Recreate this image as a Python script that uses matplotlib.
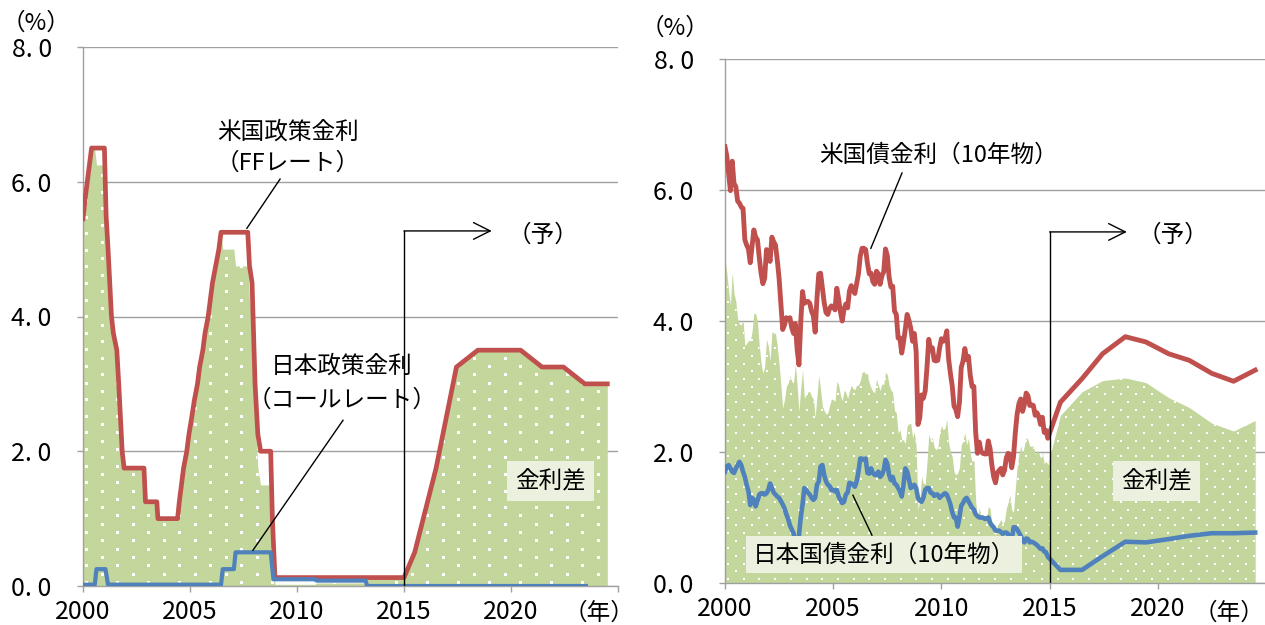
import numpy as np
import matplotlib
matplotlib.use('Agg')
import matplotlib.pyplot as plt
from matplotlib.path import Path

plt.rcParams['font.family'] = ['Liberation Sans Narrow', 'Noto Sans CJK JP', 'DejaVu Sans']

RED = '#c0504d'
BLUE = '#4f81bd'
GREEN = '#c3d69b'
BOXBG = '#ebf1de'
GRID = '#a0a0a0'
W, H = 1265, 625

# --- left: policy rates (year fraction, %) ---
ff_t = [2000.0, 2000.1, 2000.2, 2000.4, 2001.0, 2001.08, 2001.17, 2001.25, 2001.33,
        2001.42, 2001.58, 2001.67, 2001.75, 2001.83, 2001.92, 2002.85, 2002.92, 2003.45,
        2003.5, 2004.42, 2004.5, 2004.6, 2004.7, 2004.85, 2004.95, 2005.08, 2005.2,
        2005.35, 2005.45, 2005.6, 2005.7, 2005.85, 2005.95, 2006.05, 2006.2, 2006.35,
        2006.45, 2007.7, 2007.78, 2007.9, 2008.04, 2008.17, 2008.3, 2008.77,
        2008.85, 2008.97, 2015.0, 2015.5, 2016.5, 2017.45, 2018.45, 2020.45, 2021.45,
        2022.45, 2023.45, 2024.5]
ff_v = [5.45, 5.75, 6.0, 6.5, 6.5, 5.5, 5.0, 4.5, 4.0,
        3.75, 3.5, 3.0, 2.5, 2.0, 1.75, 1.75, 1.25, 1.25,
        1.0, 1.0, 1.25, 1.5, 1.75, 2.0, 2.25, 2.5, 2.75,
        3.0, 3.25, 3.5, 3.75, 4.0, 4.25, 4.5, 4.75, 5.0,
        5.25, 5.25, 4.75, 4.5, 3.0, 2.25, 2.0, 2.0,
        1.0, 0.125, 0.125, 0.5, 1.75, 3.25, 3.5, 3.5, 3.25,
        3.25, 3.0, 3.0]

call_t = [2000.0, 2000.55, 2000.63, 2001.05, 2001.17, 2006.45, 2006.53, 2007.05, 2007.13,
          2008.77, 2008.9, 2010.85, 2010.92, 2013.2, 2013.28, 2023.5]
call_v = [0.02, 0.02, 0.25, 0.25, 0.02, 0.02, 0.25, 0.25, 0.5,
          0.5, 0.1, 0.1, 0.08, 0.08, 0.0, 0.0]

# --- right: 10y government bond yields, monthly 2000/01 - 2014/12 ---
us10 = [
    6.66, 6.52, 6.26, 5.99, 6.44, 6.10, 6.05, 5.83, 5.80, 5.74, 5.72, 5.24,  # 2000
    5.16, 5.10, 4.89, 5.14, 5.39, 5.28, 5.24, 4.97, 4.73, 4.57, 4.65, 5.09,  # 2001
    5.04, 4.91, 5.28, 5.21, 5.16, 4.93, 4.65, 4.26, 3.87, 3.94, 4.05, 4.03,  # 2002
    4.05, 3.90, 3.81, 3.96, 3.57, 3.33, 3.98, 4.45, 4.27, 4.29, 4.30, 4.27,  # 2003
    4.15, 4.08, 3.83, 4.35, 4.72, 4.73, 4.50, 4.28, 4.13, 4.10, 4.19, 4.23,  # 2004
    4.22, 4.17, 4.50, 4.34, 4.14, 4.00, 4.18, 4.26, 4.20, 4.46, 4.54, 4.47,  # 2005
    4.42, 4.57, 4.72, 4.99, 5.11, 5.11, 5.09, 4.88, 4.72, 4.73, 4.60, 4.56,  # 2006
    4.76, 4.72, 4.56, 4.69, 4.75, 5.10, 5.00, 4.67, 4.52, 4.53, 4.15, 4.10,  # 2007
    3.74, 3.74, 3.51, 3.68, 3.88, 4.10, 4.01, 3.89, 3.69, 3.81, 3.53, 2.42,  # 2008
    2.52, 2.87, 2.82, 2.93, 3.29, 3.72, 3.56, 3.59, 3.40, 3.39, 3.40, 3.59,  # 2009
    3.73, 3.69, 3.73, 3.85, 3.42, 3.20, 3.01, 2.70, 2.65, 2.54, 2.76, 3.29,  # 2010
    3.39, 3.58, 3.41, 3.46, 3.17, 3.00, 3.00, 2.30, 1.98, 2.15, 2.01, 1.98,  # 2011
    1.97, 1.97, 2.17, 2.05, 1.80, 1.62, 1.53, 1.68, 1.72, 1.75, 1.65, 1.72,  # 2012
    1.91, 1.98, 1.96, 1.76, 1.93, 2.30, 2.58, 2.74, 2.81, 2.62, 2.72, 2.90,  # 2013
    2.86, 2.71, 2.72, 2.71, 2.56, 2.60, 2.54, 2.42, 2.53, 2.30, 2.33, 2.21,  # 2014
]
jp10 = [
    1.70, 1.78, 1.80, 1.75, 1.70, 1.68, 1.75, 1.80, 1.85, 1.80, 1.70, 1.62,  # 2000
    1.50, 1.40, 1.19, 1.30, 1.27, 1.17, 1.25, 1.35, 1.37, 1.37, 1.35, 1.37,  # 2001
    1.42, 1.52, 1.45, 1.38, 1.35, 1.32, 1.30, 1.25, 1.20, 1.14, 1.05, 0.98,  # 2002
    0.88, 0.82, 0.76, 0.62, 0.55, 0.72, 1.00, 1.20, 1.45, 1.42, 1.38, 1.35,  # 2003
    1.30, 1.27, 1.30, 1.50, 1.55, 1.78, 1.80, 1.65, 1.55, 1.50, 1.48, 1.42,  # 2004
    1.42, 1.40, 1.42, 1.32, 1.27, 1.22, 1.24, 1.35, 1.38, 1.53, 1.52, 1.50,  # 2005
    1.47, 1.55, 1.70, 1.90, 1.90, 1.88, 1.90, 1.68, 1.67, 1.75, 1.68, 1.65,  # 2006
    1.65, 1.70, 1.62, 1.65, 1.72, 1.88, 1.82, 1.65, 1.57, 1.62, 1.52, 1.50,  # 2007
    1.45, 1.40, 1.32, 1.50, 1.75, 1.70, 1.58, 1.45, 1.47, 1.50, 1.45, 1.30,  # 2008
    1.26, 1.24, 1.30, 1.42, 1.45, 1.45, 1.38, 1.37, 1.33, 1.35, 1.35, 1.30,  # 2009
    1.33, 1.35, 1.37, 1.35, 1.28, 1.20, 1.08, 1.00, 1.00, 0.86, 1.00, 1.18,  # 2010
    1.22, 1.28, 1.30, 1.25, 1.20, 1.15, 1.12, 1.05, 1.02, 1.00, 1.00, 1.00,  # 2011
    0.98, 0.98, 1.00, 0.92, 0.88, 0.85, 0.80, 0.80, 0.80, 0.78, 0.75, 0.77,  # 2012
    0.77, 0.75, 0.62, 0.65, 0.85, 0.85, 0.82, 0.77, 0.72, 0.65, 0.62, 0.68,  # 2013
    0.67, 0.62, 0.63, 0.62, 0.60, 0.58, 0.55, 0.52, 0.53, 0.48, 0.47, 0.40,  # 2014
]
# forecast part (予)
fc_t = [2015.5, 2016.5, 2017.45, 2018.5, 2019.45, 2020.5, 2021.45, 2022.5, 2023.5, 2024.5]
us10_fc = [2.76, 3.12, 3.50, 3.76, 3.68, 3.50, 3.40, 3.20, 3.08, 3.25]
jp10_fc = [0.20, 0.20, 0.41, 0.63, 0.62, 0.67, 0.72, 0.76, 0.76, 0.77]

xticks = [2000, 2005, 2010, 2015, 2020, 2025]
xtick_labels = ['2000', '2005', '2010', '2015', '2020', '']
yticks = [0, 2, 4, 6, 8]
ytick_labels = ['0. 0', '2. 0', '4. 0', '6. 0', '8. 0']


def px_axes(fig, x0, x1, y0, y1):
    return fig.add_axes([x0 / W, 1 - y1 / H, (x1 - x0) / W, (y1 - y0) / H])


def setup(ax):
    ax.set_xlim(2000, 2025)
    ax.set_ylim(0, 8)
    ax.set_xticks(xticks)
    ax.set_xticklabels(xtick_labels)
    ax.set_yticks(yticks)
    ax.set_yticklabels(ytick_labels)
    ax.grid(axis='y', color=GRID, lw=1.0)
    ax.set_axisbelow(True)
    for s in ['top', 'right']:
        ax.spines[s].set_visible(False)
    for s in ['left', 'bottom']:
        ax.spines[s].set_color(GRID)
        ax.spines[s].set_linewidth(1.0)
    ax.tick_params(axis='both', color=GRID, labelcolor='black', length=4.5, width=1.0)
    ax.tick_params(axis='x', pad=5, labelsize=18)
    ax.tick_params(axis='y', pad=18, labelsize=18)


def spread_fill(ax, t, spread, step_x, step_y, size_px):
    # green area with a staggered grid of small white squares inside it
    poly = ax.fill_between(t, 0, spread, color=GREEN, lw=0, zorder=1)
    w, h = ax.bbox.width, ax.bbox.height
    xs, ys = [], []
    for i, y in enumerate(np.arange(step_y / 2, h, step_y)):
        off = 3 if i % 2 == 0 else 3 + step_x / 2
        for x in np.arange(off, w, step_x):
            xs.append(x / w)
            ys.append(y / h)
    dots = ax.scatter(xs, ys, s=(size_px * 0.72) ** 2, marker='s', c='white',
                      linewidths=0, transform=ax.transAxes, zorder=1.5)
    dots.set_clip_path(Path.make_compound_path(*poly.get_paths()), ax.transData)


def forecast_arrow(ax, x0, x1, y):
    ax.plot([x0, x0], [0, y], color='black', lw=1.0, zorder=4)
    ax.annotate('', xy=(x1, y), xytext=(x0, y),
                arrowprops=dict(arrowstyle='->,head_length=0.6,head_width=0.3',
                                mutation_scale=20, color='black', lw=1.0,
                                shrinkA=0, shrinkB=0), zorder=4)


def leader(ax, p0, p1):
    ax.plot([p0[0], p1[0]], [p0[1], p1[1]], color='black', lw=1.0, zorder=4)


fig = plt.figure(figsize=(W / 100, H / 100), dpi=100)
fs = 17

# left panel
ax1 = px_axes(fig, 83, 618, 47, 586)
t_all = np.union1d(ff_t, call_t)
gap = np.interp(t_all, ff_t, ff_v) - np.interp(t_all, call_t, call_v)
spread_fill(ax1, t_all, gap, 31, 8.3, 3)
ax1.plot(ff_t, ff_v, color=RED, lw=3.4, zorder=3)
ax1.plot(call_t, call_v, color=BLUE, lw=3.0, zorder=3)
forecast_arrow(ax1, 2015, 2019.1, 5.27)
ax1.text(2021.5, 5.21, '（予）', ha='center', va='center', fontsize=fs)
ax1.text(2009.58, 6.74, '米国政策金利', ha='center', va='center', fontsize=fs)
ax1.text(2009.58, 6.28, '（FFレート）', ha='center', va='center', fontsize=fs)
leader(ax1, (2009.21, 6.04), (2007.66, 5.31))
ax1.text(2012.1, 3.26, '日本政策金利', ha='center', va='center', fontsize=fs)
ax1.text(2012.1, 2.76, '（コールレート）', ha='center', va='center', fontsize=fs)
leader(ax1, (2012.15, 2.46), (2007.94, 0.53))
ax1.text(2021.84, 1.56, '金利差', ha='center', va='center', fontsize=fs, zorder=5,
         bbox=dict(boxstyle='square,pad=0.35', fc=BOXBG, ec='none'))
setup(ax1)

# right panel
ax2 = px_axes(fig, 725, 1266, 59, 583)
t_month = 2000 + np.arange(len(us10)) / 12
t2 = np.concatenate([t_month, fc_t])
us_all = np.concatenate([us10, us10_fc])
jp_all = np.concatenate([jp10, jp10_fc])
spread_fill(ax2, t2, us_all - jp_all, 15.7, 7.7, 2)
ax2.plot(t2, us_all, color=RED, lw=3.5, zorder=3)
ax2.plot(t2, jp_all, color=BLUE, lw=3.3, zorder=3)
forecast_arrow(ax2, 2015, 2018.57, 5.36)
ax2.text(2020.7, 5.31, '（予）', ha='center', va='center', fontsize=fs)
ax2.text(2009.88, 6.53, '米国債金利（10年物）', ha='center', va='center', fontsize=fs)
leader(ax2, (2008.18, 6.26), (2006.74, 5.11))
ax2.text(2007.34, 0.43, '日本国債金利（10年物）', ha='center', va='center', fontsize=fs,
         zorder=5, bbox=dict(boxstyle='square,pad=0.3', fc=BOXBG, ec='none'))
leader(ax2, (2005.91, 1.34), (2006.79, 0.73))
ax2.text(2019.95, 1.56, '金利差', ha='center', va='center', fontsize=fs, zorder=5,
         bbox=dict(boxstyle='square,pad=0.35', fc=BOXBG, ec='none'))
setup(ax2)

fig.text(2 / W, 1 - 23 / H, '（%）', ha='left', va='center', fontsize=17)
fig.text(641 / W, 1 - 28 / H, '（%）', ha='left', va='center', fontsize=17)
fig.text(599 / W, 1 - 613 / H, '（年）', ha='center', va='center', fontsize=17)
fig.text(1264 / W, 1 - 613 / H, '（年）', ha='right', va='center', fontsize=17)

fig.savefig('out.png', dpi=100)
